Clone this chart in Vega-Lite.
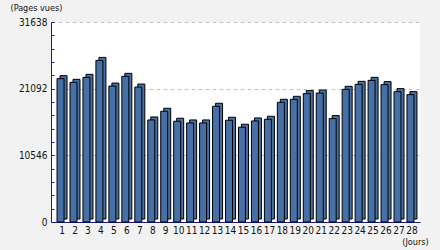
{
  "$schema": "https://vega.github.io/schema/vega-lite/v6.json",
  "width": 369,
  "height": 200,
  "autosize": "none",
  "padding": {"left": 51, "top": 22, "right": 20, "bottom": 28},
  "background": "#f2f2f2",
  "config": {
    "view": {"fill": "white", "stroke": null},
    "axis": {
      "labelFont": "DejaVu Sans Condensed",
      "labelFontSize": 10,
      "labelColor": "#111111",
      "titleFont": "DejaVu Sans Condensed",
      "titleFontSize": 9,
      "titleFontWeight": "normal",
      "titleColor": "#111111",
      "domainColor": "#1a1a80",
      "tickColor": "#1a1a80"
    }
  },
  "data": {
    "values": [
      {"jour": "1", "pages": 22676},
      {"jour": "2", "pages": 22092},
      {"jour": "3", "pages": 22881},
      {"jour": "4", "pages": 25564},
      {"jour": "5", "pages": 21508},
      {"jour": "6", "pages": 23039},
      {"jour": "7", "pages": 21350},
      {"jour": "8", "pages": 16143},
      {"jour": "9", "pages": 17516},
      {"jour": "10", "pages": 15938},
      {"jour": "11", "pages": 15670},
      {"jour": "12", "pages": 15670},
      {"jour": "13", "pages": 18305},
      {"jour": "14", "pages": 16096},
      {"jour": "15", "pages": 14991},
      {"jour": "16", "pages": 15985},
      {"jour": "17", "pages": 16253},
      {"jour": "18", "pages": 18936},
      {"jour": "19", "pages": 19409},
      {"jour": "20", "pages": 20309},
      {"jour": "21", "pages": 20404},
      {"jour": "22", "pages": 16364},
      {"jour": "23", "pages": 20987},
      {"jour": "24", "pages": 21776},
      {"jour": "25", "pages": 22408},
      {"jour": "26", "pages": 21729},
      {"jour": "27", "pages": 20624},
      {"jour": "28", "pages": 20151}
    ]
  },
  "encoding": {
    "x": {
      "field": "jour",
      "type": "ordinal",
      "sort": null,
      "scale": {"paddingInner": 0.46, "paddingOuter": 0.466},
      "axis": {
        "title": "(Jours)",
        "titleAngle": 0,
        "titleAlign": "center",
        "titleBaseline": "middle",
        "titleX": 364,
        "titleY": 19.5,
        "labelAngle": 0,
        "ticks": false,
        "labelPadding": 3,
        "labelOffset": 1.5,
        "domainWidth": 1
      }
    },
    "y": {
      "field": "pages",
      "type": "quantitative",
      "scale": {"domain": [0, 31638], "nice": false, "zero": true},
      "axis": {
        "title": "(Pages vues)",
        "titleAngle": 0,
        "titleAlign": "left",
        "titleBaseline": "middle",
        "titleX": -41,
        "titleY": -14.5,
        "values": [0, 2109.2, 4218.4, 6327.6, 8436.8, 10546, 12655.2, 14764.4, 16873.6, 18982.8, 21092, 23201.2, 25310.4, 27419.6, 29528.8, 31638],
        "labelExpr": "indexof([0,10546,21092,31638], datum.value) >= 0 ? '' + datum.value : ''",
        "tickSize": -3,
        "labelPadding": 7,
        "domainWidth": 1,
        "grid": true,
        "gridColor": "#c4c4c4",
        "gridDash": [4, 3],
        "gridOpacity": {"condition": {"test": "indexof([10546,21092,31638], datum.value) >= 0", "value": 1}, "value": 0}
      }
    }
  },
  "layer": [
    {"mark": {"type": "bar", "fill": "#4670a6", "stroke": "black", "strokeWidth": 1, "xOffset": 3, "yOffset": -3}},
    {"mark": {"type": "bar", "fill": "#4670a6", "stroke": "black", "strokeWidth": 1}}
  ]
}
